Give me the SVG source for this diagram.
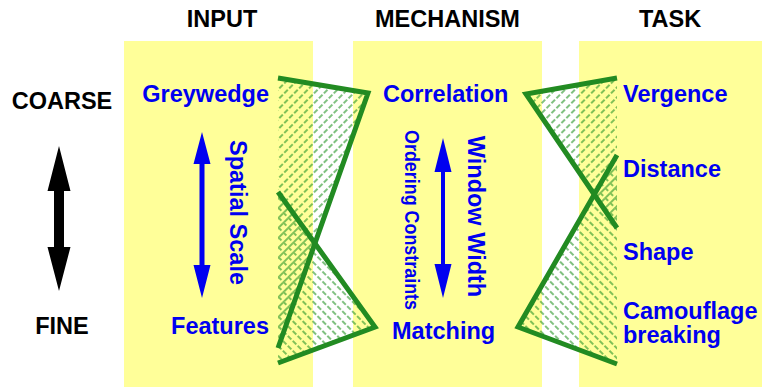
<svg xmlns="http://www.w3.org/2000/svg" width="762" height="387" viewBox="0 0 762 387">
  <defs>
    <style>
      .head { font-family: "Liberation Sans", Arial, sans-serif; font-weight: bold; font-size: 23.5px; fill: #000; }
      .lbl { font-family: "Liberation Sans", Arial, sans-serif; font-weight: bold; font-size: 23.5px; fill: #0000f0; }
      .small { font-size: 20px; }
      .panel { fill: #ffff99; }
      .edge { fill: none; stroke: #228b22; stroke-width: 5; stroke-linejoin: miter; stroke-linecap: butt; }
      .hl { stroke: #2a962a; stroke-width: 1.2; stroke-dasharray: 5 2; }
    </style>
    <pattern id="hatchF" patternUnits="userSpaceOnUse" width="7" height="7" patternTransform="rotate(45)">
      <line class="hl" x1="1" y1="0" x2="1" y2="7"/>
    </pattern>
    <pattern id="hatchB" patternUnits="userSpaceOnUse" width="7" height="7" patternTransform="rotate(-45)">
      <line class="hl" x1="1" y1="0" x2="1" y2="7"/>
    </pattern>
  </defs>

  <g id="panels">
    <rect id="panel-input" class="panel" x="124" y="41" width="189" height="346"/>
    <rect id="panel-mechanism" class="panel" x="353" y="41" width="189" height="346"/>
    <rect id="panel-task" class="panel" x="579" y="41" width="183" height="346"/>
  </g>

  <g id="connectors">
    <polygon points="278,78 368,93 278,348" fill="url(#hatchF)"/>
    <polygon points="278,192 375,327 278,363" fill="url(#hatchB)"/>
    <polygon points="617,78 526,94 617,228" fill="url(#hatchF)"/>
    <polygon points="617,155 518,327 617,364" fill="url(#hatchB)"/>
    <polyline class="edge" points="278,78 368,93 278,348"/>
    <polyline class="edge" points="278,192 375,327 278,363"/>
    <polyline class="edge" points="617,78 526,94 617,228"/>
    <polyline class="edge" points="617,155 518,327 617,364"/>
  </g>

  <g id="headers">
    <text class="head" x="222" y="27" text-anchor="middle">INPUT</text>
    <text class="head" x="447.5" y="27" text-anchor="middle">MECHANISM</text>
    <text class="head" x="670" y="27" text-anchor="middle">TASK</text>
  </g>

  <g id="scale-axis">
    <text class="head" x="62" y="109" text-anchor="middle">COARSE</text>
    <text class="head" x="62" y="334" text-anchor="middle">FINE</text>
    <polygon fill="#000" points="59,146 70.5,191 64,191 64,247 70.5,247 59,291 47.5,247 54,247 54,191 47.5,191"/>
  </g>

  <g id="node-greywedge"><text class="lbl" x="269" y="102" text-anchor="end">Greywedge</text></g>
  <g id="node-features"><text class="lbl" x="269" y="334" text-anchor="end">Features</text></g>
  <g id="node-spatial-scale">
    <polygon fill="#0000f0" points="202,132 210.5,164 204.5,164 204.5,265 210.5,265 202,298 193.5,265 199.5,265 199.5,164 193.5,164"/>
    <text class="lbl" transform="translate(229.5,212.5) rotate(90)" text-anchor="middle">Spatial Scale</text>
  </g>

  <g id="node-correlation"><text class="lbl" x="383" y="102">Correlation</text></g>
  <g id="node-matching"><text class="lbl" x="392" y="339">Matching</text></g>
  <g id="node-window-width">
    <polygon fill="#0000f0" points="443,138 451.5,172 445,172 445,264 451.5,264 443,298 434.5,264 441,264 441,172 434.5,172"/>
    <text class="lbl small" transform="translate(404.5,220) rotate(90)" text-anchor="middle" textLength="180" lengthAdjust="spacingAndGlyphs">Ordering Constraints</text>
    <text class="lbl" transform="translate(468,216.5) rotate(90)" text-anchor="middle">Window Width</text>
  </g>

  <g id="node-vergence"><text class="lbl" x="623" y="102">Vergence</text></g>
  <g id="node-distance"><text class="lbl" x="623" y="177">Distance</text></g>
  <g id="node-shape"><text class="lbl" x="623" y="260">Shape</text></g>
  <g id="node-camouflage">
    <text class="lbl" x="623" y="319">Camouflage</text>
    <text class="lbl" x="623" y="343">breaking</text>
  </g>
</svg>
